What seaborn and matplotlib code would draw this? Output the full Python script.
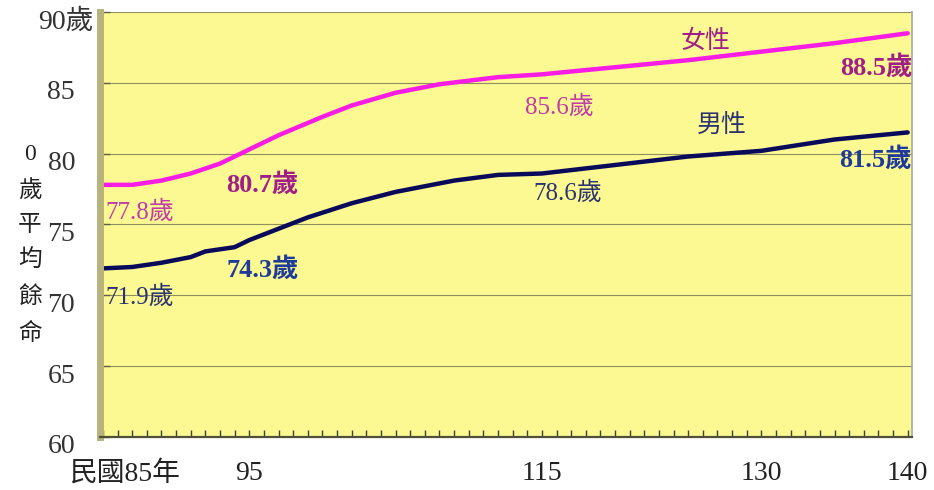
import matplotlib.pyplot as plt
import pandas as pd
import seaborn as sns
from matplotlib.ticker import MultipleLocator, FixedLocator
from matplotlib.transforms import ScaledTranslation

# 民國年 與 0歲平均餘命
years_f = [85, 87, 89, 91, 93, 95, 97, 100, 102, 105, 108, 112, 115, 120, 125, 130, 135, 140]
female = [77.8, 77.8, 78.1, 78.6, 79.3, 80.3, 81.3, 82.6, 83.4, 84.3, 84.9, 85.4, 85.6, 86.1, 86.6, 87.2, 87.8, 88.5]
years_m = [85, 87, 89, 91, 92, 94, 95, 97, 99, 102, 105, 109, 112, 115, 120, 125, 130, 135, 140]
male = [71.9, 72.0, 72.3, 72.7, 73.1, 73.4, 73.9, 74.7, 75.5, 76.5, 77.3, 78.1, 78.5, 78.6, 79.2, 79.8, 80.2, 81.0, 81.5]

xticks = [85, 95, 115, 130, 140]
xticklabels = ["民國85年", "95", "115", "130", "140"]
yticks = [60, 65, 70, 75, 80, 85, 90]
yticklabels = ["60", "65", "70", "75", "80", "85", "90歲"]

df = pd.DataFrame({
    "year": years_f + years_m,
    "life": female + male,
    "sex": ["女性"] * len(years_f) + ["男性"] * len(years_m),
})

sns.set_style("white")
fam = ["Liberation Serif", "Noto Sans CJK TC", "DejaVu Sans"]
plt.rcParams["font.family"] = fam

fig = plt.figure(figsize=(9.34, 4.9), dpi=100)
ax = fig.add_axes((0.1071, 0.1082, 0.8694, 0.8673))
ax.set_facecolor("#FDF992")

sns.lineplot(data=df, x="year", y="life", hue="sex",
             palette={"女性": "#F81CE4", "男性": "#0A0A5A"},
             linewidth=3.2, legend=False, ax=ax)

ax.set_xlim(84.8, 140.3)
ax.set_ylim(60, 90)
ax.set_xlabel("")
ax.set_ylabel("")

# 格線
ax.yaxis.set_major_locator(FixedLocator(yticks))
ax.grid(axis="y", color="#8E8E60", linewidth=0.8)
ax.grid(axis="x", visible=False)

# x 刻度
ax.set_xticks(xticks)
ax.set_xticklabels(xticklabels, fontsize=20, color="#222222")
ax.xaxis.set_minor_locator(MultipleLocator(1))
ax.tick_params(axis="x", which="both", direction="in", length=5, width=1,
               color="#404030", pad=17, bottom=True)
# 「民國85年」往右一點
lab0 = ax.get_xticklabels()[0]
lab0.set_transform(lab0.get_transform() + ScaledTranslation(0.21, 0, fig.dpi_scale_trans))

# y 刻度
ax.set_yticks(yticks)
ax.set_yticklabels(yticklabels, fontsize=20, color="#333333")
ax.tick_params(axis="y", direction="in", length=7, width=1, color="#606040",
               pad=18, left=True)
for i, lab in enumerate(ax.get_yticklabels()):
    dx = 0.18 if i == len(yticks) - 1 else 0
    lab.set_transform(lab.get_transform() + ScaledTranslation(dx, -0.07, fig.dpi_scale_trans))

# 邊框
ax.spines["top"].set_visible(False)
ax.spines["left"].set_color("#B8B27C")
ax.spines["left"].set_linewidth(5)
ax.spines["bottom"].set_color("#505038")
ax.spines["bottom"].set_linewidth(1.6)
ax.spines["right"].set_color("#A8A8A0")
ax.spines["right"].set_linewidth(1.2)

# 縱軸標題
fig.text(0.032, 0.501, "0\n歲\n平\n均\n餘\n命", fontsize=17, ha="center",
         va="center", linespacing=1.85, color="#222222", family=fam)

# 標註
pink = "#C03CA8"
pinkb = "#A01E88"
navy = "#2A3470"
blueb = "#1E3A9A"
ax.text(85.14, 75.9, "77.8歲", fontsize=18, color=pink, ha="left", va="center")
ax.text(85.14, 69.9, "71.9歲", fontsize=18, color=navy, ha="left", va="center")
ax.text(95.9, 77.8, "80.7歲", fontsize=19, color=pinkb, weight="bold",
        ha="center", va="center")
ax.text(95.9, 71.8, "74.3歲", fontsize=19, color=blueb, weight="bold",
        ha="center", va="center")
ax.text(116.2, 83.3, "85.6歲", fontsize=18, color=pink, ha="center", va="center")
ax.text(116.8, 77.2, "78.6歲", fontsize=18, color=navy, ha="center", va="center")
ax.text(126.2, 87.9, "女性", fontsize=18, color=pinkb, ha="center", va="center")
ax.text(127.3, 81.9, "男性", fontsize=18, color=navy, ha="center", va="center")
ax.text(140.3, 86.1, "88.5歲", fontsize=19, color=pinkb, weight="bold",
        ha="right", va="center")
ax.text(140.3, 79.6, "81.5歲", fontsize=19, color=blueb, weight="bold",
        ha="right", va="center")

fig.savefig("out.png", dpi=100)
